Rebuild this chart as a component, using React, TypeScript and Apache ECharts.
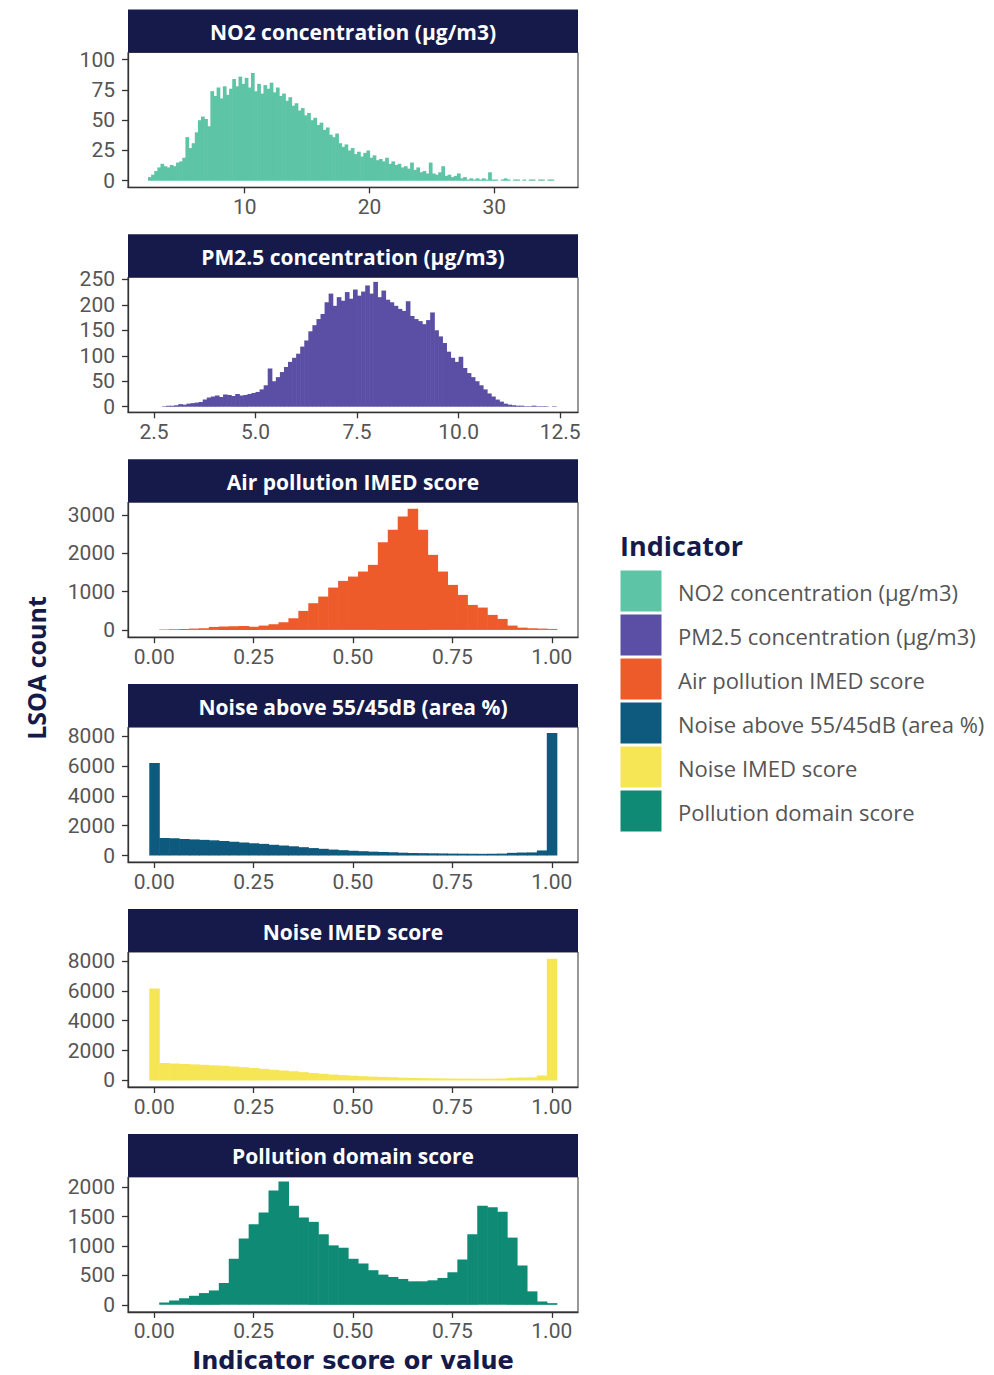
import React, { useEffect, useRef } from "react";
import * as echarts from "echarts";

// ---------------- data ----------------
const indicatorNames = [
  "NO2 concentration (μg/m3)",
  "PM2.5 concentration (μg/m3)",
  "Air pollution IMED score",
  "Noise above 55/45dB (area %)",
  "Noise IMED score",
  "Pollution domain score",
];
const indicatorColors = ["#5dc4a5", "#5a4fa4", "#ee5b2b", "#0e5a7e", "#f6e655", "#0f8a74"];

// NO2: bins of 0.25 µg/m3 starting at 2.25
const no2BinStart = 2.25;
const no2BinWidth = 0.25;
const no2Counts = [
  3, 5, 8, 11, 14, 12, 11, 13, 12, 15,
  16, 19, 36, 27, 31, 40, 50, 53, 51, 45,
  74, 70, 77, 68, 78, 71, 76, 84, 78, 86,
  80, 85, 77, 89, 74, 80, 72, 79, 76, 81,
  73, 77, 70, 72, 66, 69, 62, 64, 58, 60,
  54, 56, 50, 52, 46, 48, 42, 44, 38, 36,
  39, 31, 28, 30, 25, 27, 22, 24, 20, 23,
  25, 19, 21, 17, 18, 16, 19, 14, 16, 13,
  14, 11, 12, 10, 15, 9, 11, 7, 8, 6,
  15, 6, 5, 7, 12, 4, 5, 3, 4, 6,
  2, 3, 1, 2, 1, 2, 1, 2, 1, 7,
  1, 1, 0, 1, 2, 1, 0, 1, 1, 0,
  1, 0, 1, 1, 0, 1, 1, 0, 1, 1,
];

// PM2.5: bins of 0.1 µg/m3 starting at 2.7
const pm25BinStart = 2.7;
const pm25BinWidth = 0.1;
const pm25Counts = [
  1, 2, 2, 3, 5, 4, 6, 7, 8, 9,
  14, 18, 20, 22, 19, 24, 23, 21, 25, 22,
  23, 25, 27, 29, 34, 42, 75, 50, 58, 68,
  78, 88, 96, 104, 118, 130, 148, 160, 172, 182,
  205, 222, 198, 215, 208, 225, 212, 230, 218, 226,
  238, 222, 245, 215, 228, 210, 205, 198, 192, 188,
  207, 178, 172, 168, 162, 170, 185, 150, 138, 125,
  108, 96, 88, 98, 76, 66, 58, 50, 42, 34,
  26, 20, 14, 10, 6, 4, 3, 2, 2, 1,
  1, 2, 1, 1, 1, 0, 1,
];

// score indicators: bins of width 0.025 centred on these values
const scoreBinWidth = 0.025;
const scoreBinCentres = [
  0, 0.025, 0.05, 0.075, 0.1, 0.125, 0.15, 0.175, 0.2, 0.225,
  0.25, 0.275, 0.3, 0.325, 0.35, 0.375, 0.4, 0.425, 0.45, 0.475,
  0.5, 0.525, 0.55, 0.575, 0.6, 0.625, 0.65, 0.675, 0.7, 0.725,
  0.75, 0.775, 0.8, 0.825, 0.85, 0.875, 0.9, 0.925, 0.95, 0.975, 1,
];
const airImedCounts = [
  0, 8, 17, 26, 35, 43, 78, 87, 96, 104,
  85, 113, 148, 200, 304, 496, 696, 870, 1104, 1278,
  1391, 1522, 1696, 2287, 2609, 2957, 3157, 2609, 1957, 1522,
  1174, 913, 652, 583, 391, 287, 113, 60, 43, 35, 26,
];
const noiseAreaCounts = [
  6200, 1180, 1150, 1110, 1080, 1050, 1020, 980, 930, 880,
  830, 780, 720, 670, 620, 560, 500, 450, 400, 360,
  320, 290, 260, 240, 220, 190, 170, 160, 150, 140,
  130, 125, 120, 115, 120, 130, 180, 200, 210, 340, 8200,
];
const noiseImedCounts = [
  6150, 1170, 1140, 1100, 1075, 1045, 1010, 975, 925, 875,
  825, 775, 715, 665, 615, 555, 495, 445, 395, 355,
  315, 285, 255, 235, 215, 185, 165, 155, 145, 135,
  128, 122, 118, 112, 118, 128, 175, 195, 205, 330, 8150,
];
const domainCounts = [
  0, 40, 74, 114, 154, 200, 245, 370, 783, 1126,
  1371, 1571, 1943, 2097, 1686, 1486, 1411, 1200, 1011, 971,
  783, 703, 589, 514, 474, 440, 400, 400, 417, 457,
  554, 771, 1200, 1686, 1657, 1583, 1143, 669, 229, 57, 29,
];

// tick labels
const no2XTicks = [10, 20, 30];
const no2YTicks = [0, 25, 50, 75, 100];
const pm25XTicks = [2.5, 5, 7.5, 10, 12.5];
const pm25YTicks = [0, 50, 100, 150, 200, 250];
const scoreXTicks = [0, 0.25, 0.5, 0.75, 1];
const airYTicks = [0, 1000, 2000, 3000];
const noiseYTicks = [0, 2000, 4000, 6000, 8000];
const domainYTicks = [0, 500, 1000, 1500, 2000];

const yTitle = "LSOA count";
const xTitle = "Indicator score or value";
const legendTitle = "Indicator";

// ---------------- helpers ----------------
function fixedBins(start: number, width: number, counts: number[]) {
  return counts
    .map((c, i) => [start + i * width, start + (i + 1) * width, c])
    .filter((b) => b[2] > 0);
}
function centredBins(centres: number[], width: number, counts: number[]) {
  return counts
    .map((c, i) => [centres[i] - width / 2, centres[i] + width / 2, c])
    .filter((b) => b[2] > 0);
}

const FONT = "'Open Sans', 'DejaVu Sans', sans-serif";
const TICK_FONT = "Roboto, 'Open Sans', sans-serif";
const XTITLE_FONT = "'DejaVu Sans', sans-serif";
const NAVY = "#151a4b";
const AXIS = "#333333";
const LABEL = "#555555";

const PLOT_LEFT = 128;
const PLOT_W = 450;
const FIRST_PLOT_TOP = 52.4;
const PITCH = 224.9;
const PLOT_H = 135;
const STRIP_H = 43;

export default function App() {
  const ref = useRef<HTMLDivElement>(null);

  useEffect(() => {
    document.body.style.margin = "0";
    const chart = echarts.init(ref.current!, null, { renderer: "svg" });

    const panels = [
      { bins: fixedBins(no2BinStart, no2BinWidth, no2Counts), x: [0.65, 36.7], y: [-5.5, 106], xt: no2XTicks, yt: no2YTicks, dec: 0 },
      { bins: fixedBins(pm25BinStart, pm25BinWidth, pm25Counts), x: [1.86, 12.94], y: [-11, 254], xt: pm25XTicks, yt: pm25YTicks, dec: 1 },
      { bins: centredBins(scoreBinCentres, scoreBinWidth, airImedCounts), x: [-0.066, 1.066], y: [-190, 3330], xt: scoreXTicks, yt: airYTicks, dec: 2 },
      { bins: centredBins(scoreBinCentres, scoreBinWidth, noiseAreaCounts), x: [-0.066, 1.066], y: [-440, 8600], xt: scoreXTicks, yt: noiseYTicks, dec: 2 },
      { bins: centredBins(scoreBinCentres, scoreBinWidth, noiseImedCounts), x: [-0.066, 1.066], y: [-440, 8600], xt: scoreXTicks, yt: noiseYTicks, dec: 2 },
      { bins: centredBins(scoreBinCentres, scoreBinWidth, domainCounts), x: [-0.066, 1.066], y: [-120, 2175], xt: scoreXTicks, yt: domainYTicks, dec: 2 },
    ];

    const grids: any[] = [];
    const xAxes: any[] = [];
    const yAxes: any[] = [];
    const series: any[] = [];
    const graphics: any[] = [];

    panels.forEach((p, i) => {
      const top = FIRST_PLOT_TOP + PITCH * i;
      grids.push({
        left: PLOT_LEFT, top, width: PLOT_W, height: PLOT_H,
        show: true, borderColor: AXIS, borderWidth: 1, backgroundColor: "#ffffff",
      });
      xAxes.push({
        type: "value", gridIndex: i, min: p.x[0], max: p.x[1],
        axisLine: { show: true, onZero: false, lineStyle: { color: AXIS, width: 1.3 } },
        axisTick: { show: true, customValues: p.xt, length: 6, lineStyle: { color: AXIS, width: 1.3 } },
        axisLabel: {
          customValues: p.xt, margin: 9, fontSize: 21, color: LABEL, fontFamily: TICK_FONT,
          formatter: (v: number) => v.toFixed(p.dec),
        },
        splitLine: { show: false },
      });
      yAxes.push({
        type: "value", gridIndex: i, min: p.y[0], max: p.y[1],
        axisLine: { show: true, onZero: false, lineStyle: { color: AXIS, width: 1.3 } },
        axisTick: { show: true, customValues: p.yt, length: 6, lineStyle: { color: AXIS, width: 1.3 } },
        axisLabel: {
          customValues: p.yt, margin: 13, fontSize: 21, color: LABEL, fontFamily: TICK_FONT,
          formatter: (v: number) => String(v),
        },
        splitLine: { show: false },
      });
      const color = indicatorColors[i];
      series.push({
        type: "custom",
        name: indicatorNames[i],
        xAxisIndex: i,
        yAxisIndex: i,
        data: p.bins,
        encode: { x: [0, 1], y: 2 },
        itemStyle: { color },
        silent: true,
        renderItem: (params: any, api: any) => {
          const a = api.coord([api.value(0), api.value(2)]);
          const b = api.coord([api.value(1), 0]);
          return {
            type: "rect",
            shape: { x: a[0], y: a[1], width: b[0] - a[0] + 0.6, height: b[1] - a[1] },
            style: { fill: color },
          };
        },
      });
      // facet strip
      graphics.push({
        type: "rect",
        shape: { x: PLOT_LEFT, y: top - STRIP_H, width: PLOT_W, height: STRIP_H },
        style: { fill: NAVY },
        silent: true,
      });
      graphics.push({
        type: "text",
        x: PLOT_LEFT + PLOT_W / 2,
        y: top - STRIP_H / 2 + 1,
        style: {
          text: indicatorNames[i], fill: "#ffffff", fontSize: 21, fontWeight: "bold",
          fontFamily: FONT, align: "center", verticalAlign: "middle",
        },
        silent: true,
      });
    });

    // axis titles
    graphics.push({
      type: "text", x: 36, y: 668, rotation: Math.PI / 2,
      style: {
        text: yTitle, fill: NAVY, fontSize: 25, fontWeight: "bold", fontFamily: FONT,
        align: "center", verticalAlign: "middle",
      },
    });
    graphics.push({
      type: "text", x: 353, y: 1360.5,
      style: {
        text: xTitle, fill: NAVY, fontSize: 24, fontWeight: "bold", fontFamily: XTITLE_FONT,
        align: "center", verticalAlign: "middle",
      },
    });

    // legend
    graphics.push({
      type: "text", x: 620, y: 545,
      style: {
        text: legendTitle, fill: NAVY, fontSize: 27, fontWeight: "bold", fontFamily: FONT,
        align: "left", verticalAlign: "middle",
      },
    });
    indicatorNames.forEach((name, i) => {
      const y0 = 570.5 + i * 44;
      graphics.push({
        type: "rect", shape: { x: 620.5, y: y0, width: 41, height: 41 },
        style: { fill: indicatorColors[i] },
      });
      graphics.push({
        type: "text", x: 678, y: y0 + 21,
        style: {
          text: name, fill: LABEL, fontSize: 22, fontFamily: FONT,
          align: "left", verticalAlign: "middle",
        },
      });
    });

    chart.setOption({
      animation: false,
      backgroundColor: "#ffffff",
      grid: grids,
      xAxis: xAxes,
      yAxis: yAxes,
      series,
      graphic: graphics,
    });

    return () => chart.dispose();
  }, []);

  return <div ref={ref} style={{ width: 994, height: 1375 }} />;
}
